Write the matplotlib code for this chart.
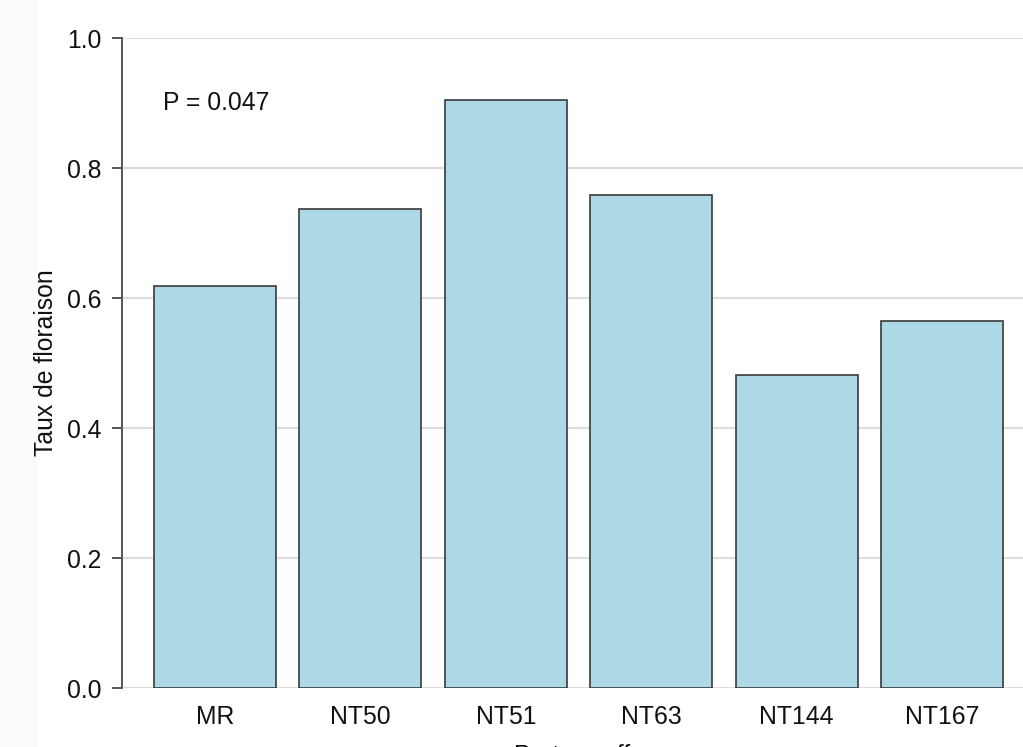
import matplotlib
matplotlib.use("Agg")
import matplotlib.pyplot as plt
from matplotlib.patches import Rectangle

# data
cultivars = ["MR", "NT50", "NT51", "NT63", "NT144", "NT167"]
taux = [0.618, 0.737, 0.904, 0.758, 0.481, 0.565]
yticks = [0.0, 0.2, 0.4, 0.6, 0.8, 1.0]
p_text = "P = 0.047"

plt.rcParams["font.family"] = ["Liberation Sans", "DejaVu Sans"]
plt.rcParams["font.size"] = 17.8

fig = plt.figure(figsize=(10.23, 7.47), dpi=100)
fig.patch.set_facecolor("white")
# off-white strip down the left edge
fig.patches.append(Rectangle((0, 0), 38 / 1023, 1, transform=fig.transFigure,
                             facecolor="#fcfbf9", edgecolor="none", zorder=-10))

# axes runs past the right edge, as in the cropped original
ax = fig.add_axes([122 / 1023, 1 - 688 / 747, 913 / 1023, 650 / 747])
ax.set_facecolor("none")

x = list(range(len(cultivars)))
ax.bar(x, taux, width=0.84, color="#add8e6", edgecolor="#3a3a3a",
       linewidth=1.2, zorder=3)

ax.set_xlim(-0.64, len(cultivars) - 1 + 0.64)
ax.set_ylim(0, 1.0)
ax.set_xticks(x)
ax.set_xticklabels(cultivars)
ax.set_yticks(yticks)
ax.set_yticklabels([f"{v:.1f}" for v in yticks])

ax.grid(axis="y", color="#dcdcdc", linewidth=1.5, zorder=0)
ax.grid(axis="x", visible=False)
for s in ["top", "right", "bottom"]:
    ax.spines[s].set_visible(False)
ax.spines["left"].set_color("#555555")
ax.spines["left"].set_linewidth(1.4)

ax.tick_params(axis="y", length=7, width=1.4, color="#555555", pad=8,
               labelcolor="#111111")
ax.tick_params(axis="x", length=0, pad=12, labelcolor="#111111")

ax.set_ylabel("Taux de floraison", labelpad=6, color="#111111")
# the original is cropped through this label
ax.set_xlabel("Porte-greffe", labelpad=11, color="#111111")

ax.text(-0.36, 0.9, p_text, ha="left", va="center", color="#111111", zorder=4)

fig.savefig("out.png", dpi=100)
